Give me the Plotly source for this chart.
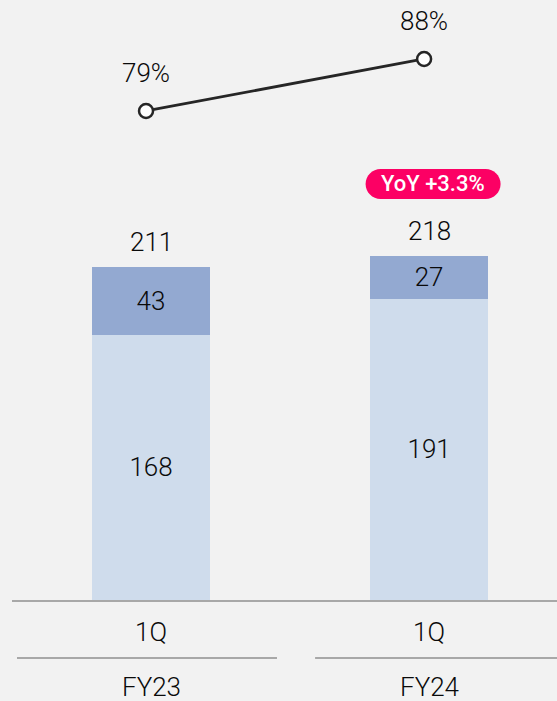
import plotly.graph_objects as go

periods = ["1Q", "1Q"]
years = ["FY23", "FY24"]
base_vals = [168, 191]
top_vals = [43, 27]
totals = [211, 218]
ratio_vals = [79, 88]
ratio_labels = ["79%", "88%"]
badge_text = "YoY +3.3%"

FONT = "Roboto"
FS = 26
FW = 300
TXT = "#0a0a0a"
xs = list(range(len(periods)))
BW = 0.4245
X0, X1 = -0.5, 1.46
SHIFT = 0.018


def tfont(size=FS, color=TXT, weight=FW):
    return dict(family=FONT, size=size, color=color, weight=weight)


fig = go.Figure()
fig.add_trace(go.Bar(
    x=xs, y=base_vals, width=BW, marker=dict(color="#cfdcec", line=dict(width=0)),
    text=[str(v) for v in base_vals], textposition="inside", insidetextanchor="middle",
    textfont=tfont(), hoverinfo="skip"))
fig.add_trace(go.Bar(
    x=xs, y=top_vals, width=BW, marker=dict(color="#93a9d1", line=dict(width=0)),
    text=[str(v) for v in top_vals], textposition="inside", insidetextanchor="middle",
    textfont=tfont(), hoverinfo="skip"))
fig.add_trace(go.Scatter(
    x=xs, y=ratio_vals, xaxis="x2", yaxis="y2", mode="lines+markers",
    line=dict(color="#262626", width=2.8),
    marker=dict(size=14, color="white", line=dict(color="#262626", width=2.5)),
    hoverinfo="skip"))

ann = []
for i, t in enumerate(totals):
    ann.append(dict(x=i, y=t, xref="x", yref="y", text=str(t), showarrow=False,
                    yanchor="middle", yshift=25, font=tfont()))
for i, (v, lab) in enumerate(zip(ratio_vals, ratio_labels)):
    ann.append(dict(x=i, y=v, xref="x2", yref="y2", text=lab, showarrow=False,
                    yanchor="middle", yshift=38, font=tfont()))
for i, (p, yr) in enumerate(zip(periods, years)):
    ann.append(dict(x=i, y=0, xref="x", yref="y", text=p, showarrow=False,
                    yanchor="middle", yshift=-32, font=tfont()))
    ann.append(dict(x=i, y=0, xref="x", yref="y", text=yr, showarrow=False,
                    yanchor="middle", yshift=-87, font=tfont()))

# YoY badge anchored to the last bar total
bi = len(totals) - 1
ann.append(dict(x=bi, y=totals[bi], xref="x", yref="y", text=badge_text,
                showarrow=False, yanchor="middle", xshift=4, yshift=72,
                font=tfont(size=22, color="white", weight=500)))

w, h, r = 135, 30, 15
cx, cy = 4, 72
k = 0.5523 * r
L, R, B, T = cx - w / 2, cx + w / 2, cy - h / 2, cy + h / 2
path = (f"M {L+r},{B} L {R-r},{B} "
        f"C {R-r+k},{B} {R},{B+r-k} {R},{B+r} "
        f"C {R},{B+r+k} {R-r+k},{T} {R-r},{T} "
        f"L {L+r},{T} "
        f"C {L+r-k},{T} {L},{T-r+k} {L},{T-r} "
        f"C {L},{T-r-k} {L+r-k},{B} {L+r},{B} Z")
shapes = [dict(type="path", xref="x", yref="y", xsizemode="pixel", ysizemode="pixel",
               xanchor=bi, yanchor=totals[bi], path=path,
               fillcolor="#fc0064", line=dict(width=0), layer="below")]

# group divider lines under the period labels
div_y = -58 / 600
shapes.append(dict(type="line", xref="x", yref="paper", x0=0 - 0.482, x1=0 + 0.453,
                   y0=div_y, y1=div_y, line=dict(color="#a8a8a8", width=2)))
shapes.append(dict(type="line", xref="x", yref="paper", x0=1 - 0.41, x1=X1,
                   y0=div_y, y1=div_y, line=dict(color="#a8a8a8", width=2)))

fig.update_layout(
    width=557, height=701, barmode="stack", showlegend=False,
    paper_bgcolor="#f2f2f2", plot_bgcolor="#f2f2f2",
    margin=dict(l=12, r=0, t=0, b=101),
    xaxis=dict(range=[X0, X1], showticklabels=False, showgrid=False, zeroline=False,
               showline=True, linecolor="#a8a8a8", linewidth=2, ticks="", fixedrange=True),
    xaxis2=dict(range=[X0 + SHIFT, X1 + SHIFT], overlaying="x", visible=False),
    yaxis=dict(range=[0, 380.2], visible=False),
    yaxis2=dict(range=[-5.6, 98.2], overlaying="y", visible=False),
    annotations=ann, shapes=shapes,
)
fig.write_html("out.html", config={"displayModeBar": False})

with open("out.html", "r", encoding="utf-8") as f:
    html = f.read()
html = html.replace("<head>", "<head><style>html,body{margin:0;padding:0;overflow:hidden;background:#f2f2f2;}</style>", 1)
with open("out.html", "w", encoding="utf-8") as f:
    f.write(html)
